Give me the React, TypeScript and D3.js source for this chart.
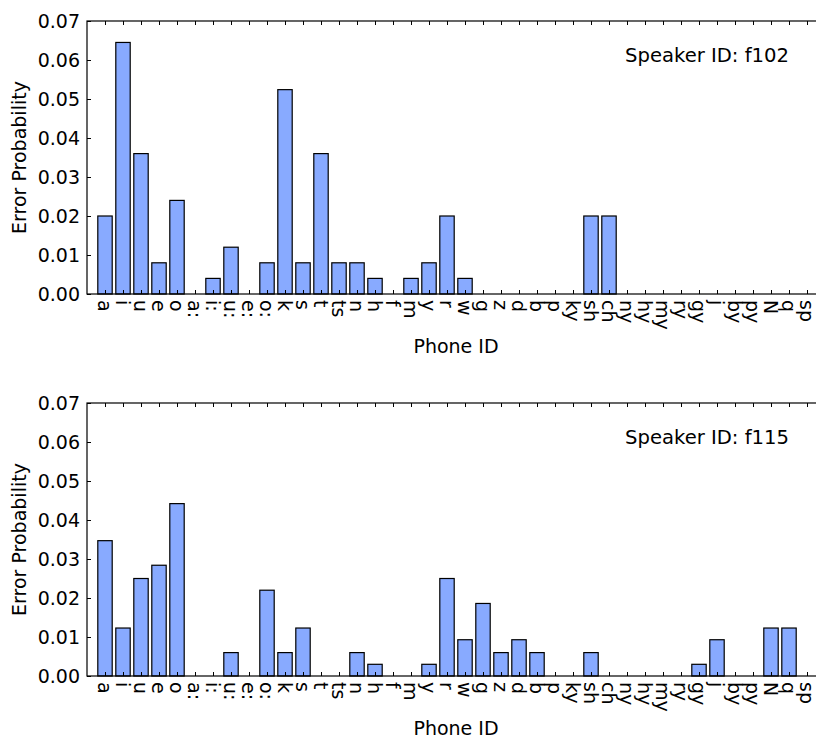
import { useEffect, useRef } from "react"
import * as d3 from "d3"

const phones = [
    "a", "i", "u", "e", "o", "a:", "i:", "u:", "e:", "o:",
    "k", "s", "t", "ts", "n", "h", "f", "m", "y", "r", "w",
    "g", "z", "d", "b", "p", "ky", "sh", "ch", "ny", "hy", "my", "ry",
    "gy", "j", "by", "py", "N", "q", "sp",
]

const f102 = [
    0.020, 0.0645, 0.036, 0.008, 0.024, 0, 0.004, 0.012, 0, 0.008,
    0.0524, 0.008, 0.036, 0.008, 0.008, 0.004, 0, 0.004, 0.008, 0.020, 0.004,
    0, 0, 0, 0, 0, 0, 0.020, 0.020, 0, 0, 0, 0,
    0, 0, 0, 0, 0, 0, 0,
]

const f115 = [
    0.0347, 0.0123, 0.025, 0.0284, 0.0442, 0, 0, 0.006, 0, 0.022,
    0.006, 0.0123, 0, 0, 0.006, 0.003, 0, 0, 0.003, 0.025, 0.0093,
    0.0186, 0.006, 0.0093, 0.006, 0, 0, 0.006, 0, 0, 0, 0, 0,
    0.003, 0.0093, 0, 0, 0.0123, 0.0123, 0,
]

const yTicks = [0, 0.01, 0.02, 0.03, 0.04, 0.05, 0.06, 0.07]

const panels = [
    { speaker: "f102", values: f102, top: 21, bottom: 294 },
    { speaker: "f115", values: f115, top: 403, bottom: 676 },
]

const W = 816
const H = 737
const FONT = "DejaVu Sans, sans-serif"

export default function App() {
    const ref = useRef<SVGSVGElement>(null)

    useEffect(() => {
        const svg = d3.select(ref.current)
        svg.selectAll("*").remove()

        const left = 87
        const right = 825
        const x = d3.scaleLinear().domain([-1, phones.length]).range([left, right])
        const barW = x(0.8) - x(0)

        panels.forEach(p => {
            const y = d3.scaleLinear().domain([0, 0.07]).range([p.bottom, p.top])
            const g = svg.append("g")

            // bars
            g.selectAll("rect.bar")
                .data(p.values)
                .join("rect")
                .attr("class", "bar")
                .attr("x", (_, i) => x(i - 0.4))
                .attr("y", d => y(d))
                .attr("width", barW)
                .attr("height", d => y(0) - y(d))
                .attr("fill", "#88aaff")
                .attr("stroke", "#000")
                .attr("stroke-width", 1.2)

            // frame
            g.append("rect")
                .attr("x", left)
                .attr("y", p.top)
                .attr("width", right - left)
                .attr("height", p.bottom - p.top)
                .attr("fill", "none")
                .attr("stroke", "#000")
                .attr("stroke-width", 1.2)

            const idx = phones.map((_, i) => i)

            // left axis
            const yl = g.append("g")
                .attr("transform", `translate(${left},0)`)
                .call(d3.axisLeft(y).tickValues(yTicks).tickFormat(d3.format(".2f")).tickSizeInner(-4).tickSizeOuter(0).tickPadding(7))
            // right axis ticks
            g.append("g")
                .attr("transform", `translate(${right},0)`)
                .call(d3.axisRight(y).tickValues(yTicks).tickFormat(() => "").tickSizeInner(-4).tickSizeOuter(0))
            // bottom ticks
            g.append("g")
                .attr("transform", `translate(0,${p.bottom})`)
                .call(d3.axisBottom(x).tickValues(idx).tickFormat(() => "").tickSizeInner(-4).tickSizeOuter(0))
            // top ticks
            g.append("g")
                .attr("transform", `translate(0,${p.top})`)
                .call(d3.axisTop(x).tickValues(idx).tickFormat(() => "").tickSizeInner(-4).tickSizeOuter(0))

            g.selectAll(".domain").remove()
            g.selectAll(".tick line").attr("stroke", "#000").attr("stroke-width", 1)
            yl.selectAll("text")
                .attr("font-family", FONT)
                .attr("font-size", 19)
                .attr("fill", "#000")

            // rotated phone labels
            g.selectAll("text.phone")
                .data(phones)
                .join("text")
                .attr("class", "phone")
                .attr("transform", (_, i) => `translate(${x(i)},${p.bottom + 6}) rotate(90)`)
                .attr("text-anchor", "start")
                .attr("dominant-baseline", "central")
                .attr("font-family", FONT)
                .attr("font-size", 19)
                .text(d => d)

            g.append("text")
                .attr("x", (left + right) / 2)
                .attr("y", p.bottom + 52)
                .attr("text-anchor", "middle")
                .attr("dominant-baseline", "central")
                .attr("font-family", FONT)
                .attr("font-size", 19)
                .text("Phone ID")

            g.append("text")
                .attr("transform", `translate(19,${(p.top + p.bottom) / 2}) rotate(-90)`)
                .attr("text-anchor", "middle")
                .attr("dominant-baseline", "central")
                .attr("font-family", FONT)
                .attr("font-size", 19)
                .text("Error Probability")

            g.append("text")
                .attr("x", 789)
                .attr("y", p.top + 34)
                .attr("text-anchor", "end")
                .attr("dominant-baseline", "central")
                .attr("font-family", FONT)
                .attr("font-size", 19.6)
                .text(`Speaker ID: ${p.speaker}`)
        })
    }, [])

    return (
        <div style={{ position: "absolute", left: 0, top: 0, width: W, height: H, overflow: "hidden", background: "#fff" }}>
            <svg ref={ref} width={W} height={H} style={{ display: "block", overflow: "hidden" }} />
        </div>
    )
}
